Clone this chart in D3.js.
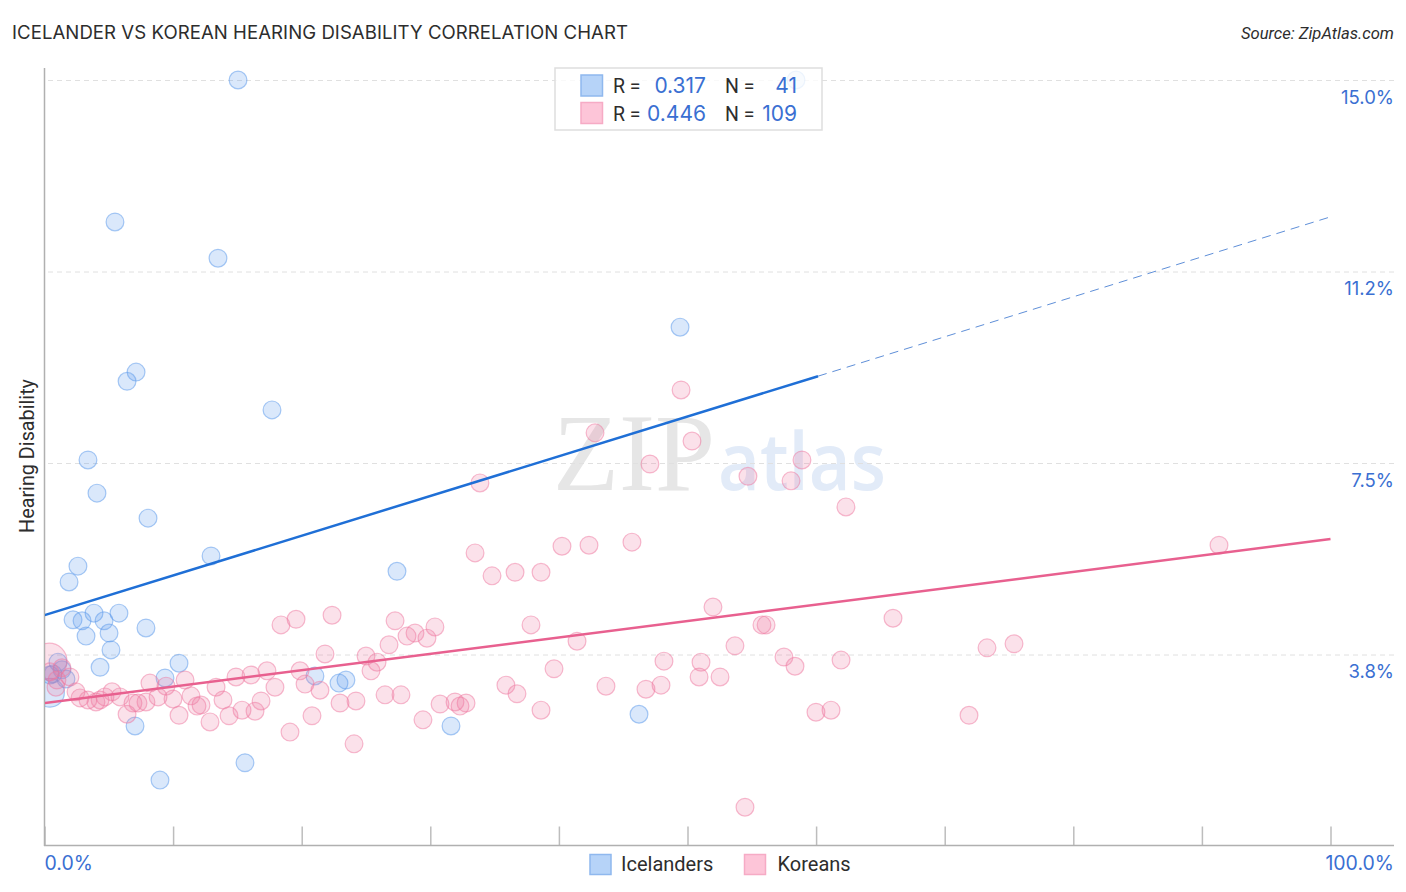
<!DOCTYPE html>
<html><head><meta charset="utf-8">
<script src="https://cdn.jsdelivr.net/npm/d3@7"></script>
<style>html,body{margin:0;padding:0;background:#fff}svg{display:block}text{font-family:Roboto,sans-serif}.num{font-family:Inter,sans-serif;font-weight:400}</style>
</head><body><svg id="c" width="1406" height="892"></svg>
<script>
const titleText = "ICELANDER VS KOREAN HEARING DISABILITY CORRELATION CHART";
const sourceText = "Source: ZipAtlas.com";
const yLabel = "Hearing Disability";
const seriesNames = ["Icelanders","Koreans"];
const yTicks = [3.75,7.5,11.25,15];
const yTickLabels = ["3.8%","7.5%","11.2%","15.0%"];
const xTicks = [0,10,20,30,40,50,60,70,80,90,100];
const legendR = ["0.317","0.446"];
const legendN = ["41","109"];
const icelanderX = [15.05,58.44,5.48,13.49,49.42,7.12,6.42,17.69,3.38,4.08,8.05,12.95,2.60,1.91,27.41,3.85,5.79,2.22,2.92,4.63,7.89,3.23,5.02,5.17,4.32,10.46,9.37,21.03,22.90,23.44,7.04,31.61,46.23,8.98,15.59,1.05,0.66,1.36,1.67,0.43,0.43];
const icelanderY = [15.0,15.0,12.22,11.51,10.16,9.28,9.10,8.54,7.56,6.91,6.42,5.68,5.48,5.17,5.38,4.56,4.56,4.43,4.41,4.41,4.27,4.11,4.17,3.84,3.50,3.58,3.29,3.33,3.19,3.25,2.35,2.35,2.58,1.29,1.63,3.60,3.37,3.45,3.27,3.00,3.35];
const icelanderWeight = [1,1,1,1,1,1,1,1,1,1,1,1,1,1,1,1,1,1,1,1,1,1,1,1,1,1,1,1,1,1,1,1,1,1,1,1,1,1,1,2.6,1];
const koreanX = [18.39,19.56,1.98,0.89,2.45,2.76,3.38,4.00,4.32,4.70,5.25,5.87,6.42,6.88,7.27,7.89,8.20,8.83,9.45,9.99,10.93,11.39,11.86,12.17,10.46,12.87,13.34,13.88,14.35,14.89,16.06,15.36,16.37,16.84,17.30,17.92,19.09,19.87,20.26,0.35,1.36,0.43,0.97,21.42,20.80,21.81,25.0,25.86,25.39,26.79,22.98,24.22,24.07,26.48,27.72,28.19,28.81,29.74,30.36,27.26,22.36,29.43,30.76,31.92,32.31,32.78,35.88,36.74,38.61,37.83,41.41,39.62,43.66,46.77,47.94,48.17,51.05,50.90,52.53,53.69,51.98,55.79,56.11,57.50,58.36,59.99,61.16,61.94,65.98,71.89,73.29,75.39,91.33,62.32,58.90,58.05,54.70,47.08,50.35,49.50,42.81,33.86,33.48,34.80,36.59,38.61,40.24,42.34,45.68,54.47];
const koreanY = [4.33,4.44,3.31,3.11,3.02,2.90,2.86,2.82,2.86,2.92,3.02,2.92,2.58,2.80,2.80,2.82,3.19,2.92,3.13,2.88,3.25,2.94,2.74,2.76,2.56,2.43,3.11,2.86,2.55,3.31,3.35,2.66,2.64,2.84,3.43,3.11,2.23,3.43,3.17,3.62,3.49,3.41,3.25,3.05,2.55,3.76,3.72,3.60,3.43,3.94,2.80,2.84,2.00,2.96,2.96,4.11,4.17,4.07,4.29,4.41,4.52,2.47,2.78,2.82,2.74,2.80,3.15,2.98,2.66,4.33,4.01,3.47,3.13,3.07,3.15,3.62,3.60,3.31,3.31,3.92,4.68,4.33,4.33,3.70,3.52,2.62,2.66,3.64,4.46,2.56,3.88,3.96,5.89,6.64,7.56,7.15,7.24,7.48,7.93,8.93,8.09,7.11,5.74,5.29,5.36,5.36,5.87,5.89,5.95,0.76];
const koreanBig = [0.35];
const icelanderTrend = [[0,4.52],[60.15,9.2],[100,12.32]];
const koreanTrend = [[0,2.80],[100,6.01]];

const BLUE="#5797eb", PINK="#ef779f", TXT="#3a6fd2", DARK="#2d2d2d";
const svg=d3.select("#c");
const x=d3.scaleLinear().domain([0,100]).range([44.5,1330.5]);
const y=d3.scaleLinear().domain([0,15]).range([846,80]);
const line=d3.line().x(d=>x(d[0])).y(d=>y(d[1]));

svg.append("defs").append("clipPath").attr("id","pa").append("rect").attr("x",45).attr("y",60).attr("width",1350).attr("height",785);

svg.append("text").attr("x",12).attr("y",39).attr("font-size",18.6).attr("font-weight",400).style("font-family","Inter,sans-serif").attr("fill",DARK).attr("textLength",616).attr("lengthAdjust","spacing").text(titleText);
svg.append("text").attr("x",1394).attr("y",38.5).attr("text-anchor","end").attr("font-size",16.6).attr("font-style","italic").attr("fill",DARK).text(sourceText);
svg.append("text").attr("transform","translate(33.5,456) rotate(-90)").attr("text-anchor","middle").attr("font-size",19.8).attr("fill",DARK).text(yLabel);

svg.append("text").attr("x",553).attr("y",490).attr("font-size",110).style("font-family","'Liberation Serif',serif").attr("fill","#e6e6e6").attr("textLength",162).attr("lengthAdjust","spacingAndGlyphs").text("ZIP");
svg.append("text").attr("x",718).attr("y",490).attr("font-size",80).attr("font-weight",600).style("font-family","'Open Sans',sans-serif").attr("fill","#e2ebf8").attr("textLength",168).attr("lengthAdjust","spacingAndGlyphs").text("atlas");

const gy=svg.append("g").attr("transform","translate(1394,0)").call(d3.axisLeft(y).tickValues(yTicks).tickSize(1350).tickFormat((d,i)=>yTickLabels[i]));
gy.select(".domain").remove();
gy.selectAll(".tick line").attr("stroke","#e0e0e0").attr("stroke-dasharray","5,4").attr("stroke-width",1);
gy.selectAll(".tick text").attr("x",0).attr("dy",0).attr("y",23).attr("text-anchor","end").attr("font-size",18.5).attr("fill",TXT).attr("class","num");

const gx=svg.append("g").attr("transform","translate(0,845.5)").call(d3.axisTop(x).tickValues(xTicks).tickSize(19).tickFormat(""));
gx.select(".domain").remove();
gx.selectAll(".tick line").attr("stroke","#bdbdbd").attr("stroke-width",1.5);
svg.append("line").attr("x1",44).attr("x2",1394).attr("y1",845.5).attr("y2",845.5).attr("stroke","#b0b0b0").attr("stroke-width",1.5);
svg.append("line").attr("x1",44.5).attr("x2",44.5).attr("y1",68).attr("y2",846).attr("stroke","#b0b0b0").attr("stroke-width",1.5);
svg.append("text").attr("class","num").attr("x",x(0)).attr("y",870).attr("font-size",19.5).attr("fill",TXT).text("0.0%");
svg.append("text").attr("class","num").attr("x",1394).attr("y",870).attr("text-anchor","end").attr("font-size",19.5).attr("fill",TXT).text("100.0%");

const plot=svg.append("g").attr("clip-path","url(#pa)");
function pts(xs,ys,col,rf){
  plot.append("g").selectAll("circle").data(xs.map((d,i)=>({x:d,y:ys[i],i}))).join("circle")
   .attr("cx",d=>x(d.x)).attr("cy",d=>y(d.y)).attr("r",d=>rf(d))
   .attr("fill",col).attr("fill-opacity",.22).attr("stroke",col).attr("stroke-opacity",.5).attr("stroke-width",1.2);
}
pts(icelanderX,icelanderY,BLUE,d=>8.9*icelanderWeight[d.i]**.5);
pts(koreanX,koreanY,PINK,d=>koreanBig.includes(d.x)?18:8.9);

plot.append("path").attr("d",line(icelanderTrend.slice(0,2))).attr("fill","none").attr("stroke","#1f6fd6").attr("stroke-width",2.5);
plot.append("path").attr("d",line(icelanderTrend.slice(1))).attr("fill","none").attr("stroke","#5f8fd8").attr("stroke-width",1).attr("stroke-dasharray","9,6");
plot.append("path").attr("d",line(koreanTrend)).attr("fill","none").attr("stroke","#e8608f").attr("stroke-width",2.5);

const lg=svg.append("g");
lg.append("rect").attr("x",555).attr("y",68).attr("width",267).attr("height",62).attr("fill","#fff").attr("fill-opacity",.8).attr("stroke","#dedede").attr("stroke-width",1.5);
const swF=["#b6d3f8","#fdc5d8"], swS=["#8fb8ee","#f6abc5"], rowY=[93,120.5];
[0,1].forEach(i=>{
  lg.append("rect").attr("x",581).attr("y",rowY[i]-18).attr("width",21.5).attr("height",21).attr("fill",swF[i]).attr("stroke",swS[i]).attr("stroke-width",1.5);
  lg.append("text").attr("x",613).attr("y",rowY[i]).attr("font-size",19.5).attr("fill",DARK).text("R =");
  lg.append("text").attr("class","num").attr("x",706).attr("y",rowY[i]).attr("text-anchor","end").attr("font-size",21).attr("fill",TXT).text(legendR[i]);
  lg.append("text").attr("x",725).attr("y",rowY[i]).attr("font-size",19.5).attr("fill",DARK).text("N =");
  lg.append("text").attr("class","num").attr("x",797).attr("y",rowY[i]).attr("text-anchor","end").attr("font-size",21).attr("fill",TXT).text(legendN[i]);
});

const bx=[590,744.5], tx=[621,777.5];
[0,1].forEach(i=>{
  svg.append("rect").attr("x",bx[i]).attr("y",854.5).attr("width",21).attr("height",20).attr("fill",swF[i]).attr("stroke",swS[i]).attr("stroke-width",1.5);
  svg.append("text").attr("x",tx[i]).attr("y",871).attr("font-size",20).attr("fill",DARK).text(seriesNames[i]);
});
</script></body></html>
